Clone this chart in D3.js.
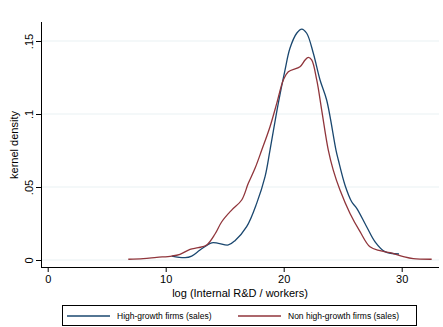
<!DOCTYPE html>
<html>
<head>
<meta charset="utf-8">
<script src="https://cdn.jsdelivr.net/npm/d3@7"></script>
<style>
  body { margin: 0; background: #fff; }
  svg { display: block; font-family: "Liberation Sans", Arial, sans-serif; }
</style>
</head>
<body>
<div id="chart"></div>
<script>
// kernel density estimates: [log(R&D/workers), density]
var highGrowth = [
  [10.51, 0.0027], [11.64, 0.0016], [12.20, 0.0027], [12.91, 0.0068],
  [13.90, 0.0118], [14.46, 0.0114], [15.31, 0.0103], [15.87, 0.0132],
  [16.86, 0.0228], [17.71, 0.0388], [18.42, 0.0571], [18.84, 0.0753],
  [19.54, 0.1073], [20.11, 0.1301], [20.53, 0.1450], [21.10, 0.1553],
  [21.53, 0.1582], [21.95, 0.1553], [22.51, 0.1416], [23.08, 0.1233],
  [23.64, 0.1096], [24.43, 0.0753], [24.63, 0.0685], [25.19, 0.0514],
  [25.76, 0.0399], [26.19, 0.0354], [27.03, 0.0228], [27.74, 0.0125],
  [28.58, 0.0057], [29.77, 0.0041]
];
var nonHighGrowth = [
  [6.83, 0.0005], [8.10, 0.0009], [9.24, 0.0018], [10.51, 0.0027],
  [11.21, 0.0039], [12.06, 0.0073], [12.76, 0.0084], [13.47, 0.0103],
  [14.18, 0.0178], [14.75, 0.0262], [15.59, 0.0342], [16.44, 0.0411],
  [17.00, 0.0525], [17.57, 0.0628], [18.14, 0.0753], [18.84, 0.0913],
  [19.41, 0.1073], [19.97, 0.1233], [20.39, 0.1290], [21.38, 0.1324],
  [21.81, 0.1370], [22.08, 0.1388], [22.37, 0.1370], [22.80, 0.1233],
  [23.22, 0.1027], [23.78, 0.0753], [24.20, 0.0616], [24.77, 0.0479],
  [25.62, 0.0319], [26.47, 0.0194], [27.31, 0.0090], [28.16, 0.0064],
  [29.01, 0.0050], [30.14, 0.0023], [30.98, 0.0009], [32.54, 0.0005]
];
var xTicks = [0, 10, 20, 30];
var yTicks = [0, 0.05, 0.1, 0.15];
var yTickLabels = ["0", ".05", ".1", ".15"];
var seriesNames = ["High-growth firms (sales)", "Non high-growth firms (sales)"];
var seriesColors = ["#1a476f", "#90353b"];

var W = 443, H = 327;
var plot = {left: 41, right: 439, top: 22, bottom: 267};

var svg = d3.select("#chart").append("svg")
    .attr("width", W)
    .attr("height", H);

var x = d3.scaleLinear().domain([0, 30]).range([47.7, 401.7]);
var y = d3.scaleLinear().domain([0, 0.15]).range([260, 41]);

// grid lines
svg.append("g")
    .selectAll("line")
    .data(yTicks)
    .enter()
    .append("line")
    .attr("x1", plot.left)
    .attr("x2", plot.right)
    .attr("y1", function(d) { return y(d); })
    .attr("y2", function(d) { return y(d); })
    .attr("stroke", "#eaf2f3")
    .attr("stroke-width", 1.2);

// y axis
var yAxis = svg.append("g")
    .attr("transform", "translate(" + plot.left + ",0)")
    .call(d3.axisLeft(y).tickValues(yTicks)
        .tickFormat(function(d, i) { return yTickLabels[i]; })
        .tickSize(5).tickSizeOuter(0));
yAxis.select(".domain").attr("d", "M0.5," + plot.top + "V" + plot.bottom).attr("stroke", "#000");
yAxis.selectAll(".tick line").attr("stroke", "#000");
yAxis.selectAll(".tick text")
    .attr("transform", "rotate(-90)")
    .attr("x", 0).attr("y", -8)
    .attr("dy", 0)
    .style("text-anchor", "middle")
    .style("font-size", "11px")
    .style("font-family", "Liberation Sans, Arial, sans-serif")
    .attr("fill", "#000");

// x axis
var xAxis = svg.append("g")
    .attr("transform", "translate(0," + plot.bottom + ")")
    .call(d3.axisBottom(x).tickValues(xTicks).tickSize(5).tickSizeOuter(0).tickPadding(3));
xAxis.select(".domain").attr("d", "M" + plot.left + ",0.5H" + plot.right).attr("stroke", "#000");
xAxis.selectAll(".tick line").attr("stroke", "#000");
xAxis.selectAll(".tick text")
    .style("font-size", "11px")
    .style("font-family", "Liberation Sans, Arial, sans-serif")
    .attr("fill", "#000");

// axis titles
svg.append("text")
    .attr("x", 240)
    .attr("y", 297)
    .attr("text-anchor", "middle")
    .style("font-size", "11px")
    .text("log (Internal R&D / workers)");

svg.append("text")
    .attr("transform", "translate(18,145) rotate(-90)")
    .attr("text-anchor", "middle")
    .style("font-size", "11px")
    .text("kernel density");

// density curves
var line = d3.line()
    .x(function(d) { return x(d[0]); })
    .y(function(d) { return y(d[1]); })
    .curve(d3.curveCatmullRom.alpha(0.5));

svg.selectAll(".curve")
    .data([highGrowth, nonHighGrowth])
    .enter()
    .append("path")
    .attr("class", "curve")
    .attr("d", line)
    .attr("fill", "none")
    .attr("stroke", function(d, i) { return seriesColors[i]; })
    .attr("stroke-width", 1.3);

// legend
var legend = svg.append("g");
legend.append("rect")
    .attr("x", 62.5).attr("y", 305.5)
    .attr("width", 354).attr("height", 20)
    .attr("fill", "#fff")
    .attr("stroke", "#000")
    .attr("stroke-width", 1);

var legendX = [67, 238];
seriesNames.forEach(function(name, i) {
    legend.append("line")
        .attr("x1", legendX[i]).attr("x2", legendX[i] + 43)
        .attr("y1", 316).attr("y2", 316)
        .attr("stroke", seriesColors[i])
        .attr("stroke-width", 1.3);
    legend.append("text")
        .attr("x", legendX[i] + 50)
        .attr("y", 319)
        .style("font-size", "8.5px")
        .text(name);
});
</script>
</body>
</html>
